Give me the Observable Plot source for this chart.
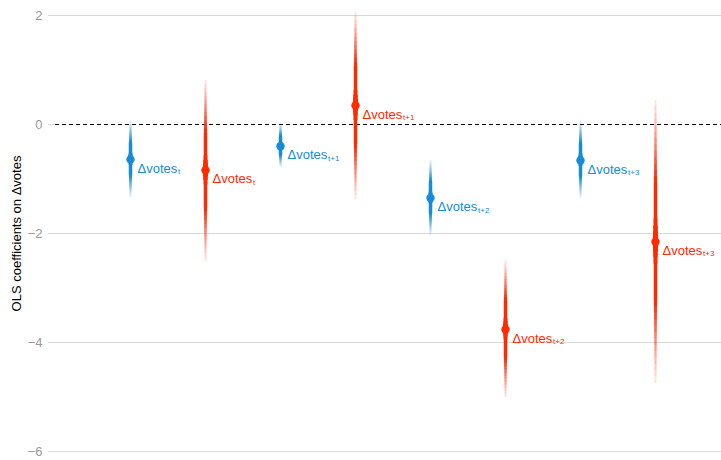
<!DOCTYPE html>
<html>
<head>
<meta charset="utf-8">
<script src="https://cdn.jsdelivr.net/npm/d3@7"></script>
<script src="https://cdn.jsdelivr.net/npm/@observablehq/plot@0.6"></script>
<style>
  html, body { margin: 0; padding: 0; background: #fff; }
  #chart { width: 721px; height: 460px; }
</style>
</head>
<body>
<div id="chart"></div>
<script>
// ---- data ----
const categories = ["c1", "c2", "c3", "c4", "c5", "c6", "c7", "c8"];
const series     = ["A", "B", "A", "B", "A", "B", "A", "B"];
const subscripts = ["t", "t", "t+1", "t+1", "t+2", "t+2", "t+3", "t+3"];
const estimates  = [-0.64, -0.84, -0.40, 0.35, -1.35, -3.76, -0.66, -2.15];
const lower      = [-1.35, -2.51, -0.79, -1.38, -2.04, -5.01, -1.36, -4.75];
const upper      = [0.07, 0.81, 0.02, 2.06, -0.66, -2.50, 0.07, 0.44];
const yTicks     = [-6, -4, -2, 0, 2];
const seriesColors = {A: "#168bd6", B: "#ff2a00"};

// ---- gradient-interval styling: nested layers whose opacities stack ----
const nLayers = 14;
const layerFrac = d3.range(nLayers).map(k => 1 - k * 0.045);     // 1.0 ... ~0.42
const target = t => Math.min(1, 0.13 + 0.87 * Math.pow((1 - t) / 0.55, 1.05));
const layerOpacity = [];
let prev = 0;
layerFrac.forEach((f, k) => {
  const c = Math.min(0.999, target(f));
  layerOpacity.push(k === nLayers - 1 ? 1 : 1 - (1 - c) / (1 - prev));
  prev = c;
});
const layerWidth = layerFrac.map((f, k) => 2 + 1.3 * k / (nLayers - 1));
// tapered spindle around the estimate
const spindleFrac  = [0.16, 0.11, 0.07, 0.035];
const spindleWidth = [3.8, 4.3, 4.8, 5.3];

const rows = categories.map((c, i) => ({
  cat: c, series: series[i], sub: subscripts[i],
  est: estimates[i], lo: lower[i], hi: upper[i]
}));

const layerMark = (f, op, w) => Plot.ruleX(rows, {
  x: "cat",
  y1: r => r.est - f * (r.est - r.lo),
  y2: r => r.est + f * (r.hi - r.est),
  stroke: r => seriesColors[r.series], strokeOpacity: op, strokeWidth: w
});

const chart = Plot.plot({
  width: 721,
  height: 460,
  marginLeft: 55,
  marginRight: 0,
  marginTop: 15,
  marginBottom: 9,
  style: {fontFamily: "'Liberation Sans', Arial, Helvetica, sans-serif", fontSize: "13px", background: "#fff"},
  x: {type: "point", domain: categories, range: [130, 655], padding: 0, axis: null},
  y: {domain: [-6, 2]},
  marks: [
    Plot.gridY([-6, -4, -2, 2], {stroke: "#d9d9d9", strokeOpacity: 1}),
    Plot.axisY(yTicks, {
      tickSize: 7, tickPadding: 6, stroke: "#d9d9d9", fill: "#9a9a9a",
      tickFormat: d => d < 0 ? "\u2212" + Math.abs(d) : String(d),
      label: null
    }),
    Plot.axisY([], {
      label: "OLS coefficients on \u0394votes", labelAnchor: "center", labelArrow: "none",
      labelOffset: 44, fill: "#000", tickSize: 0
    }),
    Plot.ruleY([0], {stroke: "#000", strokeDasharray: "4,3", strokeWidth: 1}),
    ...layerFrac.map((f, k) => layerMark(f, layerOpacity[k], layerWidth[k])),
    ...spindleFrac.map((f, k) => layerMark(f, 1, spindleWidth[k])),
    Plot.dot(rows, {x: "cat", y: "est", r: 4.2, fill: d => seriesColors[d.series], stroke: "none"}),
    Plot.text(rows, {x: "cat", y: "est", text: () => "\u0394votes", textAnchor: "start",
      dx: 7, dy: 9, fontSize: 13, fill: d => seriesColors[d.series]}),
    Plot.text(rows, {x: "cat", y: "est", text: "sub", textAnchor: "start",
      dx: 47.5, dy: 12, fontSize: 8, fill: d => seriesColors[d.series]})
  ]
});

document.getElementById("chart").appendChild(chart);
</script>
</body>
</html>
